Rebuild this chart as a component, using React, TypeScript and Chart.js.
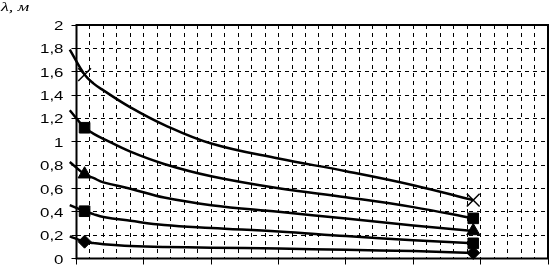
import React, { useEffect, useRef } from "react";
import { Chart, registerables } from "chart.js";

Chart.register(...registerables);

// x positions (axis units, 0..7) at which the curves were read
const xPoints = [-0.1, 0.12, 0.25, 0.4, 0.8, 1.3, 2.0, 3.0, 4.0, 5.0, 5.89];

// curve values (λ, м)
const seriesCross = [1.79, 1.575, 1.5, 1.44, 1.295, 1.145, 0.985, 0.856, 0.748, 0.628, 0.5];
const seriesSquareTop = [1.27, 1.12, 1.07, 1.025, 0.915, 0.81, 0.705, 0.602, 0.525, 0.44, 0.344];
const seriesTriangle = [0.826, 0.722, 0.69, 0.652, 0.598, 0.522, 0.457, 0.4, 0.342, 0.283, 0.236];
const seriesSquareLow = [0.457, 0.405, 0.38, 0.356, 0.323, 0.287, 0.262, 0.232, 0.192, 0.157, 0.13];
const seriesDiamond = [0.19, 0.144, 0.133, 0.123, 0.108, 0.099, 0.093, 0.085, 0.074, 0.064, 0.048];

// indexes of the measured points that carry a marker
const markerIndexes = [1, 10];

const yTickValues = [0, 0.2, 0.4, 0.6, 0.8, 1, 1.2, 1.4, 1.6, 1.8, 2];
const yTickLabels = ["0", "0,2", "0,4", "0,6", "0,8", "1", "1,2", "1,4", "1,6", "1,8", "2"];
const yTitle = "λ, м";

const makeData = (vals: number[]) => xPoints.map((x, i) => ({ x, y: vals[i] }));
const radii = (r: number) => xPoints.map((_, i) => (markerIndexes.includes(i) ? r : 0));

const framePlugin = {
  id: "frameAndLabels",
  beforeDatasetsDraw(chart: any) {
    const { ctx, chartArea: a } = chart;
    ctx.save();
    ctx.strokeStyle = "#000";
    ctx.lineWidth = 2;
    ctx.strokeRect(a.left, a.top, a.right - a.left, a.bottom - a.top);
    ctx.restore();
  },
  afterDraw(chart: any) {
    const { ctx } = chart;
    const ys = chart.scales.y;
    ctx.save();
    ctx.fillStyle = "#000";
    ctx.font = '13px "Liberation Sans", Arial, sans-serif';
    ctx.textAlign = "right";
    ctx.textBaseline = "middle";
    yTickValues.forEach((v, i) => {
      const py = ys.getPixelForValue(v);
      ctx.save();
      ctx.translate(63.5, py + 1.5);
      ctx.scale(1.3, 1);
      ctx.fillText(yTickLabels[i], 0, 0);
      ctx.restore();
    });
    ctx.font = 'italic 12px "Liberation Serif", serif';
    ctx.textAlign = "left";
    ctx.textBaseline = "alphabetic";
    ctx.save();
    ctx.translate(1, 11);
    ctx.scale(1.5, 1);
    ctx.fillText(yTitle, 0, 0);
    ctx.restore();
    ctx.restore();
  },
};

export default function App() {
  const ref = useRef<HTMLCanvasElement | null>(null);

  useEffect(() => {
    if (!ref.current) return;
    const common = {
      borderColor: "#000",
      borderWidth: 2.5,
      pointBackgroundColor: "#000",
      pointBorderColor: "#000",
      pointBorderWidth: 1,
      tension: 0.4,
      clip: false as any,
      fill: false,
    };
    const chart = new Chart(ref.current, {
      type: "line",
      data: {
        datasets: [
          {
            ...common,
            data: makeData(seriesCross),
            pointStyle: "crossRot",
            pointRadius: radii(9),
            pointBorderWidth: 1.5,
          },
          { ...common, data: makeData(seriesSquareTop), pointStyle: "rect", pointRadius: radii(7.5) },
          { ...common, data: makeData(seriesTriangle), pointStyle: "triangle", pointRadius: radii(7.5) },
          { ...common, data: makeData(seriesSquareLow), pointStyle: "rect", pointRadius: radii(7.5) },
          { ...common, data: makeData(seriesDiamond), pointStyle: "rectRot", pointRadius: radii(6.5) },
        ] as any,
      },
      options: {
        animation: false,
        responsive: false,
        devicePixelRatio: 1,
        events: [],
        layout: { autoPadding: false, padding: { left: 71.5, right: 2, top: 25, bottom: 0.5 } },
        elements: { line: { capBezierPoints: false } },
        plugins: { legend: { display: false }, tooltip: { enabled: false }, title: { display: false } },
        scales: {
          x: {
            type: "linear",
            min: 0,
            max: 7,
            ticks: { display: false, stepSize: 0.2 },
            grid: {
              color: "#000",
              lineWidth: 1,
              drawTicks: true,
              tickLength: 6,
              tickWidth: 1,
              tickColor: (c: any) =>
                c.tick && Math.abs(c.tick.value - Math.round(c.tick.value)) < 1e-6 ? "#000" : "rgba(0,0,0,0)",
            },
            border: { display: false, dash: [4, 4] },
          },
          y: {
            type: "linear",
            min: 0,
            max: 2,
            ticks: { display: false, stepSize: 0.2 },
            grid: { color: "#000", lineWidth: 1, drawTicks: true, tickLength: 5, tickWidth: 1, tickColor: "#000" },
            border: { display: false, dash: [4, 4] },
          },
        },
      },
      plugins: [framePlugin],
    });
    return () => chart.destroy();
  }, []);

  return (
    <div style={{ position: "absolute", left: 0, top: 0, width: 550, height: 265, background: "#fff" }}>
      <canvas ref={ref} width={550} height={265} style={{ display: "block" }} />
    </div>
  );
}
